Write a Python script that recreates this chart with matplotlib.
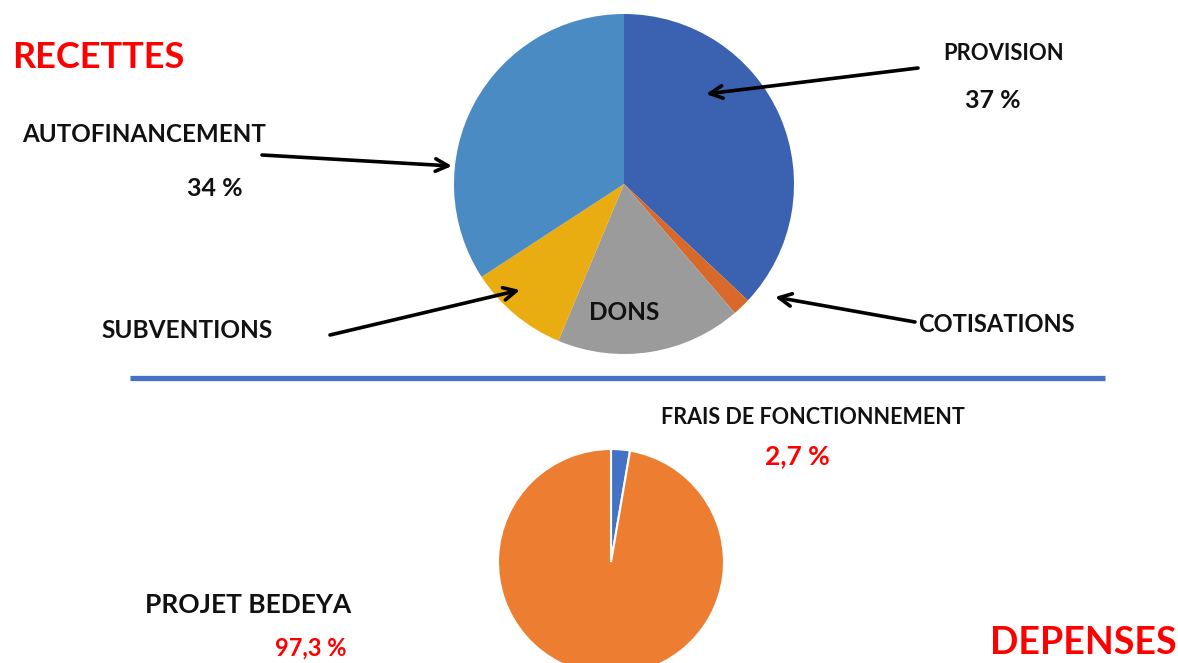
import matplotlib.pyplot as plt

# recettes (top pie), clockwise from 12 o'clock
recettes_labels = ["PROVISION", "COTISATIONS", "DONS", "SUBVENTIONS", "AUTOFINANCEMENT"]
recettes_values = [37.0, 1.7, 17.6, 9.5, 34.2]
recettes_colors = ["#3b62b0", "#d8692a", "#9b9b9b", "#e9ad12", "#4b8bc3"]

# depenses (bottom pie)
depenses_labels = ["FRAIS DE FONCTIONNEMENT", "PROJET BEDEYA"]
depenses_values = [2.7, 97.3]
depenses_colors = ["#4472c4", "#ed7d31"]

W, H = 1178, 663
fig = plt.figure(figsize=(W / 100, H / 100), dpi=100)
plt.rcParams['font.family'] = ['Lato', 'DejaVu Sans']


def pie_axes(cx, cy, r):
    # pixel centre / radius -> figure fraction box
    return fig.add_axes([(cx - r) / W, (H - cy - r) / H, 2 * r / W, 2 * r / H])


ax1 = pie_axes(624, 184, 170)
ax1.pie(recettes_values, colors=recettes_colors, startangle=90, counterclock=False,
        wedgeprops=dict(linewidth=0))
ax1.set_xlim(-1, 1)
ax1.set_ylim(-1, 1)

ax2 = pie_axes(611, 562, 113)
ax2.pie(depenses_values, colors=depenses_colors, startangle=90, counterclock=False,
        wedgeprops=dict(linewidth=1.5, edgecolor="white"))
ax2.set_xlim(-1, 1)
ax2.set_ylim(-1, 1)

# overlay in pixel coords for texts and arrows
ov = fig.add_axes([0, 0, 1, 1])
ov.set_xlim(0, W)
ov.set_ylim(H, 0)
ov.axis("off")

ov.plot([130, 1105], [378, 378], color="#4472c4", lw=3.8, solid_capstyle="butt")

ov.text(12, 57, "RECETTES", color="#ff0000", fontsize=26, fontweight="bold", va="center")
ov.text(990, 643, "DEPENSES", color="#ff0000", fontsize=27, fontweight="bold", va="center")


def label(x, y, s, size, color="#111111", ha="left"):
    ov.text(x, y, s, fontsize=size, fontweight="bold", color=color, ha=ha, va="center")


label(943, 53, "PROVISION", 15.8)
label(965, 100, "37 %", 18)
label(22, 135, "AUTOFINANCEMENT", 17.4)
label(187, 188, "34 %", 18)
label(101, 331, "SUBVENTIONS", 17.6)
label(918, 324, "COTISATIONS", 17)
label(624, 313, "DONS", 17.6, ha="center")
label(661, 418, "FRAIS DE FONCTIONNEMENT", 15.5)
label(765, 456, "2,7 %", 19, color="#ff0000")
label(145, 605, "PROJET BEDEYA", 19)
label(275, 648, "97,3 %", 17, color="#ff0000")

arrows = [((918, 68), (706, 94)),
          ((262, 155), (452, 166)),
          ((330, 335), (520, 290)),
          ((915, 322), (775, 297))]
for tail, tip in arrows:
    ov.annotate("", xy=tip, xytext=tail,
                arrowprops=dict(arrowstyle="->,head_length=0.9,head_width=0.45",
                                color="black", lw=2.6, shrinkA=0, shrinkB=0))

fig.savefig("out.png", dpi=100)
